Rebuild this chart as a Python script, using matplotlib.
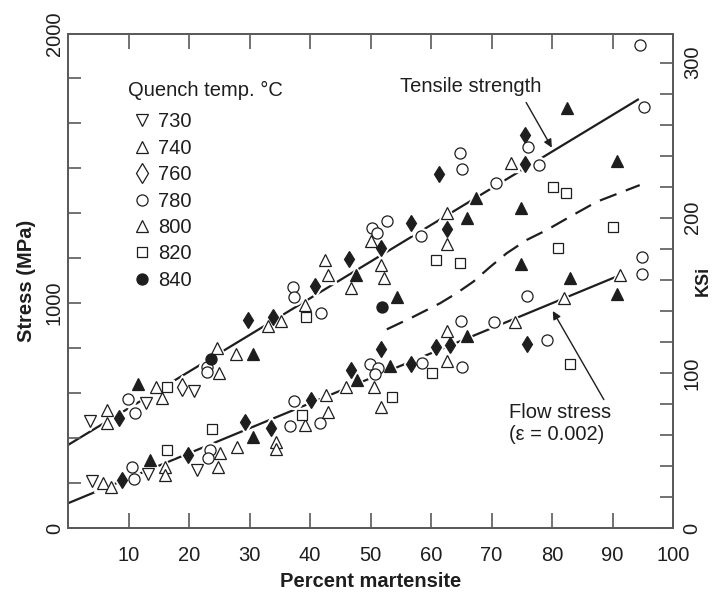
import matplotlib
matplotlib.use("Agg")
from matplotlib import pyplot as plt
from matplotlib.lines import Line2D

# percent martensite / stress in MPa
down_tri_x = [3.7, 12.9, 20.9, 4.0, 13.3, 21.4]
down_tri_y = [476, 554, 610, 210, 240, 258]

open_tri_x = [6.4, 6.5, 14.6, 15.6, 24.7, 25.0, 27.7, 33.1, 35.2, 39.1, 42.4, 42.9, 46.7,
              50.1, 51.8, 52.3, 62.6, 62.6, 73.3,
              5.8, 7.1, 16.1, 16.1, 25.2, 24.8, 27.9, 34.4, 34.4, 39.2, 42.6, 43.0, 45.9,
              50.6, 51.7, 62.6, 62.6, 73.9, 82.0, 91.2]
open_tri_y = [524, 465, 625, 579, 799, 687, 773, 898, 921, 991, 1191, 1124, 1065,
              1277, 1169, 1110, 1401, 1262, 1621,
              199, 184, 270, 236, 332, 273, 361, 384, 350, 458, 591, 517, 625,
              625, 539, 876, 744, 917, 1024, 1124]

filled_dia_x = [8.5, 29.8, 33.9, 40.8, 46.5, 51.8, 56.7, 61.4, 62.6, 75.6, 75.6,
                9.0, 19.8, 29.3, 33.6, 40.1, 46.8, 51.7, 56.7, 60.9, 63.1, 75.9]
filled_dia_y = [490, 924, 936, 1076, 1194, 1243, 1357, 1572, 1327, 1747, 1618,
                213, 324, 473, 443, 569, 702, 794, 729, 803, 813, 818]

open_dia_x = [18.8]
open_dia_y = [625]

circle_x = [9.9, 11.0, 22.9, 22.9, 37.2, 37.4, 41.9, 50.2, 51.0, 52.7, 58.3, 64.8, 65.1,
            70.7, 76.0, 77.9, 94.5, 95.2,
            10.6, 10.9, 23.4, 23.1, 36.7, 37.4, 41.7, 49.9, 51.3, 50.7, 58.5, 65.1, 65.0,
            70.4, 75.8, 79.2, 94.8, 94.8]
circle_y = [572, 510, 717, 695, 1070, 1028, 957, 1332, 1313, 1366, 1298, 1665, 1594,
            1532, 1695, 1613, 2147, 1870,
            270, 216, 347, 310, 453, 564, 468, 729, 710, 683, 735, 717, 920,
            917, 1031, 836, 1203, 1129]

filled_tri_x = [11.6, 30.6, 47.6, 54.3, 65.9, 67.5, 74.8, 74.8, 82.4, 90.7,
                13.5, 30.6, 47.7, 53.3, 65.9, 82.9, 90.7]
filled_tri_y = [639, 773, 1124, 1025, 1376, 1465, 1421, 1172, 1865, 1633,
                302, 406, 658, 720, 853, 1110, 1040]

square_x = [16.4, 39.3, 60.8, 64.8, 80.2, 82.3, 81.0, 90.1,
            16.4, 23.8, 38.6, 53.5, 60.1, 83.0]
square_y = [628, 936, 1191, 1176, 1517, 1487, 1243, 1336,
            347, 441, 502, 581, 687, 729]

filled_circle_x = [23.6, 51.9]
filled_circle_y = [750, 984]

tensile_x = [0, 94.2]
tensile_y = [369, 1904]
flow_x = [0, 90.9]
flow_y = [110, 1120]
dashed_x = [52.7, 57.1, 61.5, 64.2, 67.0, 69.8, 72.5, 75.8, 79.1, 83.0, 87.4, 94.5]
dashed_y = [883, 939, 999, 1043, 1095, 1161, 1221, 1280, 1324, 1384, 1450, 1524]

legend_labels = ['730', '740', '760', '780', '800', '820', '840']

MPA_PER_KSI = 6.895
YTOP = 2195.6

plt.rcParams['font.family'] = ['Liberation Sans', 'DejaVu Sans']
ink = '#1e1e1e'
spine_c = '#5a5a5a'
fs = 14.5

fig = plt.figure(figsize=(7.13, 5.92), dpi=100)
ax = fig.add_axes([68 / 713, 1 - 528 / 592, 605 / 713, 494 / 592])

ax.plot(tensile_x, tensile_y, color=ink, lw=1.6, zorder=1)
ax.plot(flow_x, flow_y, color=ink, lw=1.6, zorder=1)
ax.plot(dashed_x, dashed_y, color=ink, lw=1.6, ls=(0, (8, 4.5)), zorder=1)

series = [
    (down_tri_x, down_tri_y, 'v', 9, 'white'),
    (open_tri_x, open_tri_y, '^', 9, 'white'),
    (filled_dia_x, filled_dia_y, 'd', 8.5, ink),
    (open_dia_x, open_dia_y, 'd', 9, 'white'),
    (circle_x, circle_y, 'o', 8, 'white'),
    (filled_tri_x, filled_tri_y, '^', 9, ink),
    (square_x, square_y, 's', 6.5, 'white'),
    (filled_circle_x, filled_circle_y, 'o', 8, ink),
]
for x, y, m, ms, fc in series:
    # white halo so the fit lines break around the points
    ax.plot(x, y, ls='none', marker=m, ms=ms + 3.5, mfc='white', mec='white', zorder=2)
    ax.plot(x, y, ls='none', marker=m, ms=ms, mfc=fc, mec=ink, mew=0.9, zorder=3)

ax.set_xlim(0, 100)
ax.set_ylim(0, YTOP)
ax.set_xticks(range(10, 101, 10))
ax.set_xticklabels([str(v) for v in range(10, 101, 10)])
yt = list(range(0, 2001, 200)) + [YTOP]
ylab = ['0' if v == 0 else '1000' if v == 1000 else '' for v in range(0, 2001, 200)] + ['2000']
ax.set_yticks(yt)
ax.set_yticklabels(ylab)
ax.tick_params(axis='x', direction='in', length=11, width=1.2, color=spine_c, pad=13,
               labelsize=fs, labelcolor=ink, top=True)
ax.tick_params(axis='y', direction='in', length=9.5, width=1.2, color=spine_c, pad=3,
               labelsize=fs, labelcolor=ink, labelrotation=90)
for lab in ax.get_yticklabels():
    lab.set_va('center')
for s in ax.spines.values():
    s.set_color(spine_c)
    s.set_linewidth(1.3)

ax2 = ax.twinx()
ax2.set_ylim(0, YTOP / MPA_PER_KSI)
ax2.set_yticks([0, 100, 200, 300])
ax2.set_yticks(range(20, 301, 20), minor=True)
ax2.tick_params(axis='y', which='both', direction='in', length=9.5, width=1.2,
                color=spine_c, pad=7, labelsize=fs, labelcolor=ink, labelrotation=90)
for lab in ax2.get_yticklabels():
    lab.set_va('center')
for s in ax2.spines.values():
    s.set_color(spine_c)
    s.set_linewidth(1.3)

ax.set_xlabel('Percent martensite', fontsize=fs, fontweight='bold', color=ink, labelpad=5)
ax.set_ylabel('Stress (MPa)', fontsize=fs, fontweight='bold', color=ink, labelpad=6)
ax2.set_ylabel('KSi', fontsize=13, fontweight='bold', color=ink, labelpad=-5)

handles = [
    Line2D([], [], ls='none', marker='v', ms=8, mfc='white', mec=ink, mew=0.9),
    Line2D([], [], ls='none', marker='^', ms=8, mfc='white', mec=ink, mew=0.9),
    Line2D([], [], ls='none', marker='d', ms=10, mfc='white', mec=ink, mew=0.9),
    Line2D([], [], ls='none', marker='o', ms=8, mfc='white', mec=ink, mew=0.9),
    Line2D([], [], ls='none', marker='^', ms=8, mfc='white', mec=ink, mew=0.9),
    Line2D([], [], ls='none', marker='s', ms=7, mfc='white', mec=ink, mew=0.9),
    Line2D([], [], ls='none', marker='o', ms=8, mfc=ink, mec=ink, mew=0.9),
]
ax.text(9.9, 1943, 'Quench temp. °C', fontsize=fs, color=ink, ha='left', va='center')
leg = ax.legend(handles, legend_labels, loc='upper left',
                bbox_to_anchor=(0.082, 0.862), frameon=False, fontsize=fs,
                handlelength=1.4, handletextpad=0.1,
                labelspacing=0.37, borderpad=0)
for t in leg.get_texts():
    t.set_color(ink)

ax.text(54.9, 1964, 'Tensile strength', fontsize=fs, color=ink, ha='left', va='center')
ax.annotate('', xy=(80.2, 1680), xytext=(75.5, 1902),
            arrowprops=dict(arrowstyle='-|>', color=ink, lw=1, mutation_scale=12))
ax.text(72.9, 464, 'Flow stress\n(ε = 0.002)', fontsize=fs, color=ink, ha='left',
        va='center', linespacing=1.15)
ax.annotate('', xy=(79.9, 975), xytext=(88.8, 560),
            arrowprops=dict(arrowstyle='-|>', color=ink, lw=1, mutation_scale=12))

fig.savefig('out.png', dpi=100)
